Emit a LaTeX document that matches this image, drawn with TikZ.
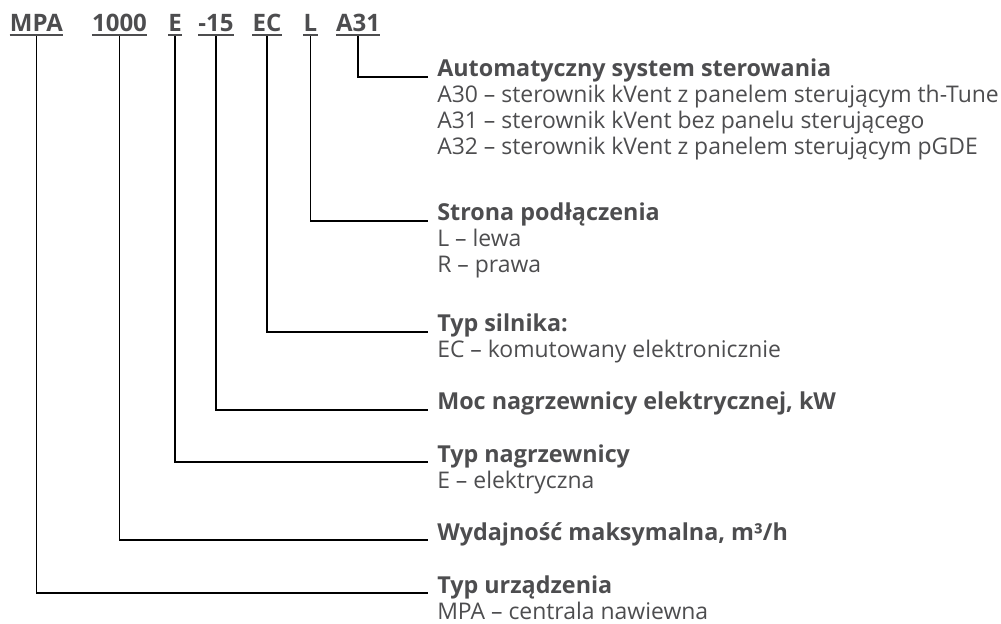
\documentclass[tikz,border=0pt]{standalone}
\usepackage{fontspec}
\setmainfont{Open Sans}
\definecolor{txt}{HTML}{4D4D4F}
\tikzset{
  code/.style={font=\fontsize{18}{20}\selectfont\bfseries, text=txt, inner sep=0pt, text depth=0pt, anchor=base},
  head/.style={font=\fontsize{17.5}{20}\selectfont\bfseries, text=txt, inner sep=0pt, anchor=base west},
  desc/.style={font=\fontsize{17.2}{20}\selectfont, text=txt, inner sep=0pt, anchor=base west},
  uline/.style={draw=txt, line width=1.1pt},
  conn/.style={draw=black, line width=1.1pt}
}
\begin{document}
\begin{tikzpicture}[x=0.75pt,y=-0.75pt]
\useasboundingbox (0,0) rectangle (1001,624);
% codes
\node[code] (cMPA) at (36.5,32) {MPA};
\node[code] (c1000) at (119.5,32) {1000};
\node[code] (cE) at (175,32) {E};
\node[code] (c15) at (216,32) {-15};
\node[code] (cEC) at (267,32) {EC};
\node[code] (cL) at (310.5,32) {L};
\node[code] (cA) at (358,32) {A31};
\foreach \n in {cMPA,c1000,cE,c15,cEC,cL,cA}{
  \draw[uline] ([yshift=-1.9pt]\n.south west) -- ([yshift=-1.9pt]\n.south east);
}
% descriptions
\node[head] (hA) at (437,77) {Automatyczny system sterowania};
\node[desc] (hA1) at (437,103) {A30 – sterownik kVent z panelem sterującym th-Tune};
\node[desc] (hA2) at (437,129) {A31 – sterownik kVent bez panelu sterującego};
\node[desc] (hA3) at (437,155) {A32 – sterownik kVent z panelem sterującym pGDE};
\node[head] (hL) at (437,221) {Strona podłączenia};
\node[desc] (hL1) at (437,247) {L – lewa};
\node[desc] (hL2) at (437,273) {R – prawa};
\node[head] (hEC) at (437,332) {Typ silnika:};
\node[desc] (hEC1) at (437,358) {EC – komutowany elektronicznie};
\node[head] (h15) at (437,410) {Moc nagrzewnicy elektrycznej, kW};
\node[head] (hE) at (437,462) {Typ nagrzewnicy};
\node[desc] (hE1) at (437,488) {E – elektryczna};
\node[head] (h1000) at (437,540) {Wydajność maksymalna, m³/h};
\node[head] (hMPA) at (437,593) {Typ urządzenia};
\node[desc] (hMPA1) at (437,619) {MPA – centrala nawiewna};
% connectors
\foreach \c/\h in {cA/hA,cL/hL,cEC/hEC,c15/h15,cE/hE,c1000/h1000,cMPA/hMPA}{
  \draw[conn] ([yshift=-3pt]\c.south) |- ([xshift=-6.75pt]\h.base west);
}
\end{tikzpicture}
\end{document}
